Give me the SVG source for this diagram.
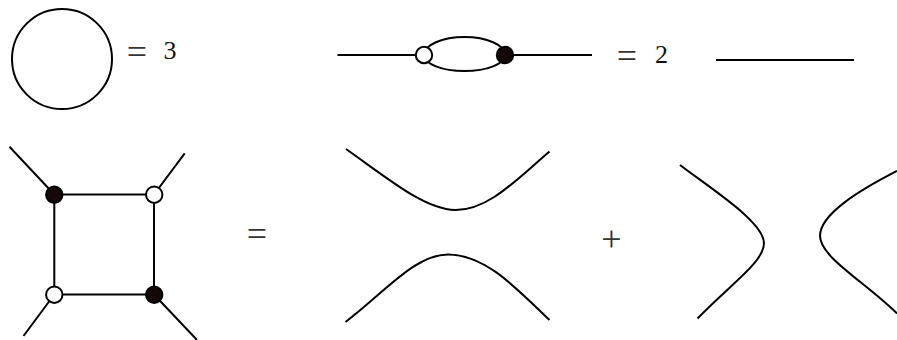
<svg xmlns="http://www.w3.org/2000/svg" width="897" height="340" viewBox="0 0 897 340">
<style>
.l{fill:none;stroke:#000;stroke-width:2;stroke-linecap:butt}
.w{fill:#fff;stroke:#000;stroke-width:2}
.b{fill:#140808;stroke:#000;stroke-width:2}
text{font-family:"Liberation Serif","Times New Roman",serif;fill:#111;text-anchor:middle}
.d{font-size:26px}
.o{font-size:36px;fill:#333}
</style>
<rect width="897" height="340" fill="#fff"/>
<g id="connectors">
<path class="l" d="M337.500 55H424M505 55H592"/>
<path class="l" d="M424 55A40.500 18 0 0 1 505 55M424 55A40.500 16 0 0 0 505 55"/>
<path class="l" d="M716 60H854"/>
<path class="l" d="M54.300 194.500H154V294.500H54.300ZM9.500 146.700L54.300 194.500M184.700 153.300L154 194.500M23.500 336L54.300 294.500M197 340L154 294.500"/>
<path class="l" d="M346 149C390 180 425 209.500 455 210C488 210.500 516 180 549.500 151.500"/>
<path class="l" d="M345.500 322C385 292 415 254.500 448 254.500C485 254.500 515 287 549.500 320"/>
<path class="l" d="M680 165C710 188 764 222 764 243C764 262 732 283 697.500 318.500"/>
<path class="l" d="M897 171C860 190 820 214 820 236C820 257 865 282 897 313.500"/>
</g>
<g id="circle"><circle class="l" cx="62" cy="59" r="50"/></g>
<g id="eq1"><text class="o" x="137" y="63.700">=</text></g>
<g id="n3"><text class="d" x="170" y="58.500">3</text></g>
<g id="v1"><circle class="w" cx="424" cy="55" r="8.200"/></g>
<g id="v2"><circle class="b" cx="505" cy="55" r="8.200"/></g>
<g id="eq2"><text class="o" x="627" y="67.500">=</text></g>
<g id="n2"><text class="d" x="661.500" y="62.700">2</text></g>
<g id="v3"><circle class="b" cx="54.300" cy="194.700" r="8.200"/></g>
<g id="v4"><circle class="w" cx="154.200" cy="194.700" r="8.200"/></g>
<g id="v5"><circle class="w" cx="54.300" cy="294.700" r="8.200"/></g>
<g id="v6"><circle class="b" cx="154.200" cy="294.700" r="8.200"/></g>
<g id="eq3"><text class="o" x="257" y="246">=</text></g>
<g id="plus"><text class="o" x="611.500" y="251">+</text></g>
</svg>
